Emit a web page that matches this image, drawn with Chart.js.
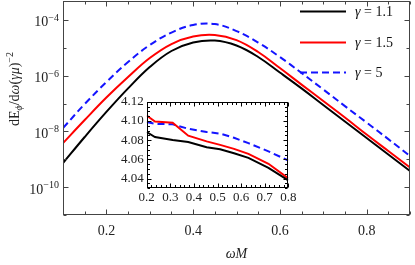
<!DOCTYPE html>
<html><head><meta charset="utf-8">
<script src="https://cdn.jsdelivr.net/npm/chart.js@4.4.1/dist/chart.umd.min.js"></script>
<style>
html,body{margin:0;padding:0;background:#fff;}
#wrap{position:relative;width:415px;height:265px;overflow:hidden;}
#main{position:absolute;left:0;top:0;}
#inset{position:absolute;left:105px;top:90px;}
</style></head><body>
<div id="wrap">
<canvas id="main" width="415" height="265" style="width:415px;height:265px"></canvas>
<canvas id="inset" width="200" height="120" style="width:200px;height:120px"></canvas>
</div>
<script>
// ---- data ----
const seriesLabels = ['γ = 1.1', 'γ = 1.5', 'γ = 5'];
const omegaM = [0.10,0.15,0.20,0.25,0.30,0.35,0.40,0.45,0.50,0.55,0.60,0.65,0.70,0.75,0.80,0.85,0.90];
const gamma11 = [7.3e-10,6.3e-9,5.0e-8,3.5e-7,2.05e-6,7.7e-6,1.55e-5,1.83e-5,1.21e-5,4.7e-6,1.3e-6,3.5e-7,8.9e-8,2.26e-8,5.8e-9,1.48e-9,3.8e-10];
const gamma15 = [3.8e-9,2.56e-8,1.64e-7,8.95e-7,4.3e-6,1.37e-5,2.55e-5,2.88e-5,1.9e-5,7.1e-6,1.88e-6,4.8e-7,1.23e-7,3.15e-8,7.7e-9,1.98e-9,5.1e-10];
const gamma5  = [1.32e-8,9.6e-8,5.9e-7,3.1e-6,1.26e-5,3.54e-5,6.6e-5,7.15e-5,4.0e-5,1.55e-5,4.7e-6,1.25e-6,3.2e-7,8.1e-8,2.08e-8,5.3e-9,1.31e-9];

const mainXTicks = [0.2, 0.4, 0.6, 0.8];
const mainYTickExponents = [-10, -8, -6, -4];

const insetOmegaM = [0.2,0.235,0.31,0.376,0.454,0.511,0.57,0.631,0.716,0.8];
const insetGamma11 = [4.0885,4.0833,4.0803,4.0781,4.0726,4.0705,4.0665,4.0616,4.0513,4.0382];
const insetGamma15 = [4.1056,4.0994,4.0982,4.0847,4.0788,4.0751,4.0710,4.0658,4.0555,4.0403];
const insetGamma5  = [4.0988,4.0970,4.0965,4.0919,4.0885,4.0868,4.0825,4.0769,4.0684,4.0589];
const insetXTicks = [0.2,0.3,0.4,0.5,0.6,0.7,0.8];
const insetYTicks = [4.04,4.06,4.08,4.10,4.12];

// ---- styles ----
const SERIF = '"Liberation Serif", "DejaVu Serif", serif';
const styles = [
  {color:'#000000', dash:[], width:2},
  {color:'#ff0000', dash:[], width:2},
  {color:'#1414ff', dash:[7,4], width:2}
];

function pts(xs, ys){ return xs.map((x,i)=>({x:x, y:ys[i]})); }
function makeDatasets(xs, lists, tension){
  return lists.map((ys,i)=>({
    label: seriesLabels[i], data: pts(xs, ys),
    borderColor: styles[i].color, borderDash: styles[i].dash, borderWidth: styles[i].width,
    pointRadius: 0, tension: tension, fill:false, clip: 0
  }));
}

function range(a, b, step){ const out=[]; const n=Math.round((b-a)/step); for(let i=0;i<=n;i++) out.push(a+i*step); return out; }

// frame + inward ticks on all four sides
function frameTicksPlugin(cfg){
  return {
    id:'frameTicks',
    afterDatasetsDraw(chart){
      const {ctx, chartArea:a, scales:{x, y}} = chart;
      const L=Math.round(a.left)+0.5, R=Math.round(a.right)-0.5, T=Math.round(a.top)+0.5, B=Math.round(a.bottom)-0.5;
      ctx.save();
      ctx.strokeStyle=cfg.color; ctx.lineWidth=1; ctx.setLineDash([]);
      ctx.beginPath();
      cfg.xMinor.forEach(v=>{
        const px=Math.round(x.getPixelForValue(v))+0.5;
        const len = cfg.xMajor.some(m=>Math.abs(m-v)<1e-9)?cfg.major:cfg.minor;
        ctx.moveTo(px,B); ctx.lineTo(px,B-len);
        ctx.moveTo(px,T); ctx.lineTo(px,T+len);
      });
      cfg.yMinor.forEach(v=>{
        const py=Math.round(y.getPixelForValue(v))+0.5;
        const len = cfg.yMajor.some(m=>Math.abs(m-v)/Math.abs(m)<1e-6)?cfg.major:cfg.minor;
        ctx.moveTo(L,py); ctx.lineTo(L+len,py);
        ctx.moveTo(R,py); ctx.lineTo(R-len,py);
      });
      ctx.stroke();
      ctx.strokeRect(L,T,R-L,B-T);
      ctx.restore();
    }
  };
}

// y tick labels with superscripts, y title, legend for main chart
const mainTextPlugin = {
  id:'mainText',
  afterDraw(chart){
    const {ctx, chartArea:a, scales:{y}} = chart;
    ctx.save();
    ctx.fillStyle='#222';
    ctx.textBaseline='alphabetic';
    mainYTickExponents.forEach(e=>{
      const py=y.getPixelForValue(Math.pow(10,e));
      const sup='\u2212'+Math.abs(e);
      ctx.font='10px '+SERIF; const w2=ctx.measureText(sup).width;
      ctx.font='14px '+SERIF; const w1=ctx.measureText('10').width;
      const xr=a.left-4;
      ctx.textAlign='left';
      ctx.fillText('10', xr-w2-w1, py+6.5);
      ctx.font='10px '+SERIF;
      ctx.fillText(sup, xr-w2, py+1);
    });
    // y title
    const segs=[
      {t:'dE', f:'14px '+SERIF, dy:0},
      {t:'\u03D5', f:'italic 10px '+SERIF, dy:3},
      {t:'/d', f:'14px '+SERIF, dy:0},
      {t:'\u03C9', f:'italic 14px '+SERIF, dy:0},
      {t:'(', f:'14px '+SERIF, dy:0},
      {t:'\u03B3\u03BC', f:'italic 14px '+SERIF, dy:0},
      {t:')', f:'14px '+SERIF, dy:0},
      {t:'\u22122', f:'10px '+SERIF, dy:-6.5}
    ];
    let W=0; segs.forEach(s=>{ctx.font=s.f; s.w=ctx.measureText(s.t).width; W+=s.w;});
    ctx.translate(19, 89); ctx.rotate(-Math.PI/2);
    let cx=-W/2;
    segs.forEach(s=>{ctx.font=s.f; ctx.fillText(s.t, cx, s.dy); cx+=s.w;});
    ctx.restore();
    // legend
    ctx.save();
    chart.data.datasets.forEach((ds,i)=>{
      const ly=Math.round(a.top+10+i*30.5)+0.5;
      ctx.strokeStyle=ds.borderColor; ctx.lineWidth=ds.borderWidth; ctx.setLineDash(ds.borderDash);
      ctx.beginPath(); ctx.moveTo(a.right-110, ly); ctx.lineTo(a.right-64, ly); ctx.stroke();
      ctx.fillStyle='#111'; ctx.textBaseline='middle'; ctx.textAlign='left';
      const lab=ds.label; const g=lab.charAt(0), rest=lab.slice(1);
      ctx.font='italic 14px '+SERIF; const wg=ctx.measureText(g).width;
      ctx.fillText(g, a.right-55, ly+0.5);
      ctx.font='14px '+SERIF; ctx.fillText(rest, a.right-55+wg, ly+0.5);
    });
    ctx.restore();
  }
};

new Chart(document.getElementById('main'), {
  type:'line',
  data:{ datasets: makeDatasets(omegaM, [gamma11, gamma15, gamma5], 0.4) },
  options:{
    responsive:false, animation:false, devicePixelRatio:1,
    layout:{padding:{left:0, right:5, top:1, bottom:0}},
    plugins:{legend:{display:false}, tooltip:{enabled:false}},
    scales:{
      x:{ type:'linear', min:0.1, max:0.9,
        grid:{display:false, drawTicks:false}, border:{display:false},
        afterBuildTicks:s=>{ s.ticks = mainXTicks.map(v=>({value:v})); },
        afterFit:s=>{ s.height=50; },
        ticks:{ autoSkip:false, maxRotation:0, padding:8, color:'#222', font:{family:SERIF, size:14},
          callback:v=>Number(v).toFixed(1) },
        title:{ display:true, text:'\u03C9M', color:'#222', font:{family:SERIF, size:14, style:'italic'}, padding:{top:0, bottom:2} }
      },
      y:{ type:'logarithmic', min:1e-11, max:4.8e-4,
        grid:{display:false, drawTicks:false}, border:{display:false},
        ticks:{display:false},
        afterFit:s=>{ s.width=63; }
      }
    }
  },
  plugins:[ frameTicksPlugin({color:'#444', major:5, minor:3,
    xMajor: mainXTicks, xMinor: range(0.1,0.9,0.05),
    yMajor: mainYTickExponents.map(e=>Math.pow(10,e)), yMinor: range(-11,-4,1).map(e=>Math.pow(10,e)) }),
    mainTextPlugin ]
});

const whiteArea = { id:'whiteArea', beforeDatasetsDraw(chart){ const {ctx, chartArea:a}=chart; ctx.save(); ctx.fillStyle='#fff'; ctx.fillRect(a.left,a.top,a.right-a.left,a.bottom-a.top); ctx.restore(); } };

new Chart(document.getElementById('inset'), {
  type:'line',
  data:{ datasets: makeDatasets(insetOmegaM, [insetGamma11, insetGamma15, insetGamma5], 0) },
  options:{
    responsive:false, animation:false, devicePixelRatio:1,
    layout:{padding:{left:0, right:16.7, top:11.7, bottom:0}},
    plugins:{legend:{display:false}, tooltip:{enabled:false}},
    scales:{
      x:{ type:'linear', min:0.2, max:0.8,
        grid:{display:false, drawTicks:false}, border:{display:false},
        afterBuildTicks:s=>{ s.ticks = insetXTicks.map(v=>({value:v})); },
        afterFit:s=>{ s.height=21.7; },
        ticks:{ autoSkip:false, maxRotation:0, padding:1, color:'#222', font:{family:SERIF, size:13},
          callback:v=>Number(v).toFixed(1) }
      },
      y:{ type:'linear', min:4.03, max:4.12,
        grid:{display:false, drawTicks:false}, border:{display:false},
        afterBuildTicks:s=>{ s.ticks = insetYTicks.map(v=>({value:v})); },
        afterFit:s=>{ s.width=41.7; },
        ticks:{ autoSkip:false, padding:3, color:'#222', font:{family:SERIF, size:13},
          callback:v=>Number(v).toFixed(2) }
      }
    }
  },
  plugins:[ whiteArea, frameTicksPlugin({color:'#000', major:4, minor:2.5,
    xMajor: insetXTicks, xMinor: range(0.2,0.8,0.02),
    yMajor: insetYTicks, yMinor: range(4.03,4.12,0.005) }) ]
});
</script>
</body></html>
